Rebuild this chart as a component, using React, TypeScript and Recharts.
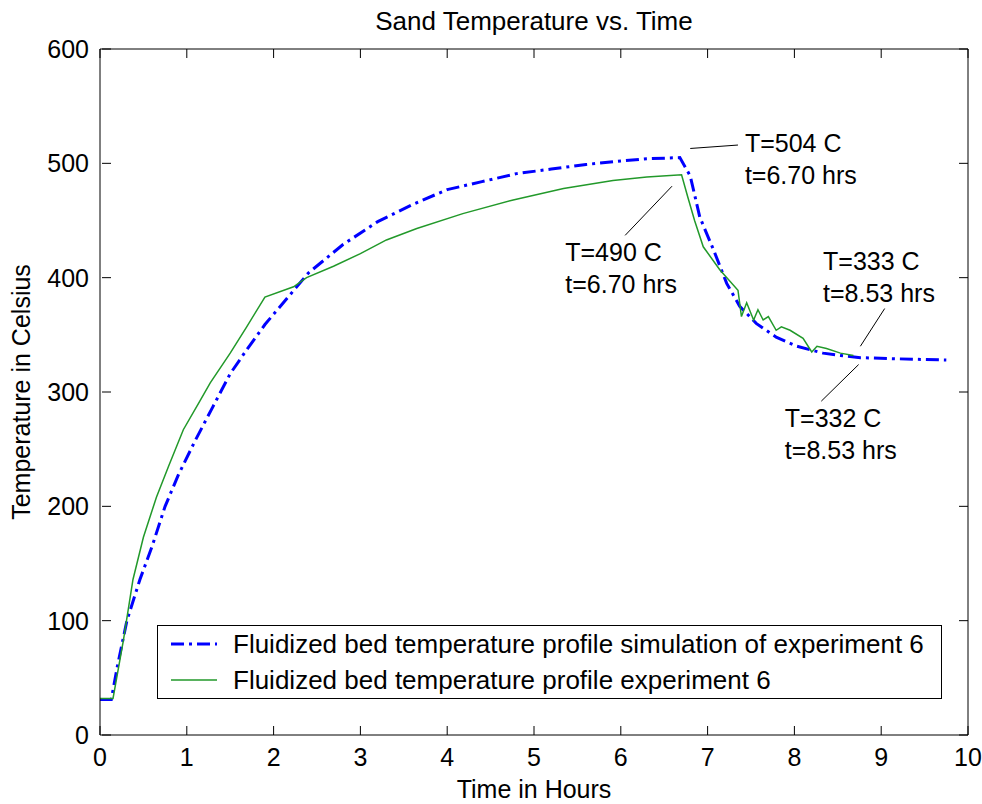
import React from "react";
import {
  LineChart,
  Line,
  XAxis,
  YAxis,
  Label,
  Legend,
  ReferenceLine,
  ReferenceDot,
} from "recharts";

const FONT = '"Liberation Sans", Arial, Helvetica, sans-serif';

// simulation of experiment 6 (blue dash-dot)
const simHours = [
  0, 0.13, 0.2, 0.31, 0.46, 0.6, 0.75, 0.9, 1.1, 1.3, 1.5, 1.7, 1.9, 2.2, 2.4,
  2.8, 3.2, 3.6, 4.0, 4.4, 4.8, 5.2, 5.6, 6.0, 6.3, 6.68, 6.8, 6.91, 7.07,
  7.22, 7.37, 7.56, 7.79, 8.03, 8.33, 8.53, 8.76, 9.2, 9.75,
];
const simTemps = [
  31, 31, 60, 100, 136, 165, 200, 227, 258, 287, 316, 338, 359, 386, 404,
  429, 449, 464, 477, 484, 491, 495, 499, 502, 504, 505, 489, 453, 424,
  395, 375, 360, 348, 340, 334, 332, 330, 329, 328,
];

// measured experiment 6 (green solid)
const expHours = [
  0, 0.15, 0.27, 0.38, 0.5, 0.65, 0.79, 0.96, 1.15, 1.27, 1.5, 1.69, 1.9,
  2.23, 2.38, 2.69, 3.0, 3.3, 3.65, 4.18, 4.76, 5.34, 5.91, 6.3, 6.7, 6.77,
  6.85, 6.95, 7.14, 7.35, 7.39, 7.45, 7.53, 7.58, 7.64, 7.7, 7.79, 7.85,
  7.95, 8.1, 8.2, 8.26, 8.37, 8.53, 8.68,
];
const expTemps = [
  32, 32, 83, 136, 173, 208, 235, 267, 292, 308, 334, 357, 383,
  392, 400, 410, 421, 433, 443, 456, 468, 478, 485, 488, 490, 471,
  450, 427, 407, 389, 366, 378, 363, 372, 363, 366, 354, 357,
  354, 347, 335, 340, 338, 334, 332,
];

const hourTicks = [0, 1, 2, 3, 4, 5, 6, 7, 8, 9, 10];
const tempTicks = [0, 100, 200, 300, 400, 500, 600];

const seriesNames = [
  "Fluidized bed temperature profile simulation of experiment 6",
  "Fluidized bed temperature profile experiment 6",
];

// callouts: text, text anchor (hours, celsius), leader line ends
const noteTexts = [
  ["T=504 C", "t=6.70 hrs"],
  ["T=490 C", "t=6.70 hrs"],
  ["T=333 C", "t=8.53 hrs"],
  ["T=332 C", "t=8.53 hrs"],
];
const noteAnchors = [
  [7.43, 510],
  [5.36, 415],
  [8.33, 407],
  [7.89, 269],
];
const noteLeaders = [
  [[6.8, 513], [7.35, 516]],
  [[6.59, 480], [6.05, 437]],
  [[9.04, 373], [8.76, 340]],
  [[8.74, 324], [8.31, 292]],
];

const simData = simHours.map((t, i) => ({ t, T: simTemps[i] }));
const expData = expHours.map((t, i) => ({ t, T: expTemps[i] }));

const TICK_LEN = 9;
const LABEL_GAP = 13;

// matlab style: tick marks point into the plot box
function BottomTick(p: any) {
  return (
    <g>
      <line x1={p.x} y1={p.y - LABEL_GAP} x2={p.x} y2={p.y - LABEL_GAP - TICK_LEN} stroke="#000" />
      <text x={p.x} y={p.y} dy="0.71em" textAnchor="middle" fontSize={25} fontFamily={FONT} fill="#000">
        {p.payload.value}
      </text>
    </g>
  );
}

function LeftTick(p: any) {
  return (
    <g>
      <line x1={p.x + LABEL_GAP} y1={p.y} x2={p.x + LABEL_GAP + TICK_LEN} y2={p.y} stroke="#000" />
      <text x={p.x} y={p.y} dy="0.355em" textAnchor="end" fontSize={25} fontFamily={FONT} fill="#000">
        {p.payload.value}
      </text>
    </g>
  );
}

function TopTick(p: any) {
  return <line x1={p.x} y1={p.y} x2={p.x} y2={p.y + TICK_LEN} stroke="#000" />;
}

function RightTick(p: any) {
  return <line x1={p.x} y1={p.y} x2={p.x - TICK_LEN} y2={p.y} stroke="#000" />;
}

function LegendBox(props: any) {
  const items = [...(props.payload || [])].sort(
    (a: any, b: any) => seriesNames.indexOf(a.value) - seriesNames.indexOf(b.value)
  );
  return (
    <div
      style={{
        width: 785,
        height: 74,
        boxSizing: "border-box",
        border: "1px solid #000",
        background: "#fff",
        fontFamily: FONT,
        fontSize: 26,
        color: "#000",
      }}
    >
      {items.map((it: any, i: number) => (
        <div key={i} style={{ display: "flex", alignItems: "center", height: 36 }}>
          <svg width={46} height={10} style={{ marginLeft: 13, marginRight: 16 }}>
            <line
              x1={0}
              y1={5}
              x2={46}
              y2={5}
              stroke={it.color}
              strokeWidth={it.payload?.strokeWidth ?? 2}
              strokeDasharray={it.payload?.strokeDasharray}
            />
          </svg>
          <span style={{ lineHeight: "36px", whiteSpace: "nowrap" }}>{it.value}</span>
        </div>
      ))}
    </div>
  );
}

export default function App() {
  return (
    <div
      style={{
        position: "absolute",
        left: 0,
        top: 0,
        width: 982,
        height: 804,
        background: "#fff",
        fontFamily: FONT,
      }}
    >
      <LineChart width={982} height={804} margin={{ top: 48, right: 13, bottom: 29, left: 10 }}>
        <XAxis
          type="number"
          dataKey="t"
          domain={[0, 10]}
          ticks={hourTicks}
          interval={0}
          allowDataOverflow
          height={40}
          tickSize={0}
          tickMargin={LABEL_GAP}
          tickLine={false}
          tick={<BottomTick />}
          stroke="#000"
        >
          <Label
            content={(p: any) => (
              <text
                x={p.viewBox.x + p.viewBox.width / 2}
                y={p.viewBox.y + 63}
                textAnchor="middle"
                fontSize={25}
                fontFamily={FONT}
                fill="#000"
              >
                Time in Hours
              </text>
            )}
          />
        </XAxis>
        <XAxis
          xAxisId="top"
          orientation="top"
          type="number"
          dataKey="t"
          domain={[0, 10]}
          ticks={hourTicks}
          interval={0}
          allowDataOverflow
          height={1}
          tickSize={0}
          tickMargin={0}
          tickLine={false}
          tick={<TopTick />}
          stroke="#000"
        >
          <Label
            content={(p: any) => (
              <text
                x={p.viewBox.x + p.viewBox.width / 2}
                y={p.viewBox.y - 18}
                textAnchor="middle"
                fontSize={26}
                fontFamily={FONT}
                fill="#000"
              >
                Sand Temperature vs. Time
              </text>
            )}
          />
        </XAxis>
        <YAxis
          type="number"
          dataKey="T"
          domain={[0, 600]}
          ticks={tempTicks}
          interval={0}
          allowDataOverflow
          width={90}
          tickSize={0}
          tickMargin={LABEL_GAP - 2}
          tickLine={false}
          tick={<LeftTick />}
          stroke="#000"
        >
          <Label
            content={(p: any) => {
              const cx = p.viewBox.x + 20;
              const cy = p.viewBox.y + p.viewBox.height / 2;
              return (
                <text
                  x={cx}
                  y={cy}
                  transform={`rotate(-90 ${cx} ${cy})`}
                  textAnchor="middle"
                  fontSize={25}
                  fontFamily={FONT}
                  fill="#000"
                >
                  Temperature in Celsius
                </text>
              );
            }}
          />
        </YAxis>
        <YAxis
          yAxisId="right"
          orientation="right"
          type="number"
          domain={[0, 600]}
          ticks={tempTicks}
          interval={0}
          allowDataOverflow
          width={1}
          tickSize={0}
          tickMargin={0}
          tickLine={false}
          tick={<RightTick />}
          stroke="#000"
        />
        <Line
          data={simData}
          dataKey="T"
          name={seriesNames[0]}
          type="linear"
          stroke="#0000ff"
          strokeWidth={3}
          strokeDasharray="13 5 3 5"
          dot={false}
          activeDot={false}
          isAnimationActive={false}
        />
        <Line
          data={expData}
          dataKey="T"
          name={seriesNames[1]}
          type="linear"
          stroke="#22992a"
          strokeWidth={1.5}
          dot={false}
          activeDot={false}
          isAnimationActive={false}
        />
        {noteLeaders.map((seg, i) => (
          <ReferenceLine
            key={`leader-${i}`}
            segment={[
              { x: seg[0][0], y: seg[0][1] },
              { x: seg[1][0], y: seg[1][1] },
            ]}
            stroke="#000"
            strokeWidth={1}
          />
        ))}
        {noteAnchors.map((a, i) => (
          <ReferenceDot
            key={`note-${i}`}
            x={a[0]}
            y={a[1]}
            r={0}
            fill="none"
            stroke="none"
            label={(p: any) => (
              <text x={p.viewBox.x} y={p.viewBox.y} fontSize={25} fontFamily={FONT} fill="#000">
                <tspan x={p.viewBox.x} dy={0}>
                  {noteTexts[i][0]}
                </tspan>
                <tspan x={p.viewBox.x} dy={32}>
                  {noteTexts[i][1]}
                </tspan>
              </text>
            )}
          />
        ))}
        <Legend
          layout="horizontal"
          verticalAlign="middle"
          align="center"
          wrapperStyle={{ left: 157, top: 625, width: 785, height: 74 }}
          content={(p: any) => <LegendBox {...p} />}
        />
      </LineChart>
    </div>
  );
}
